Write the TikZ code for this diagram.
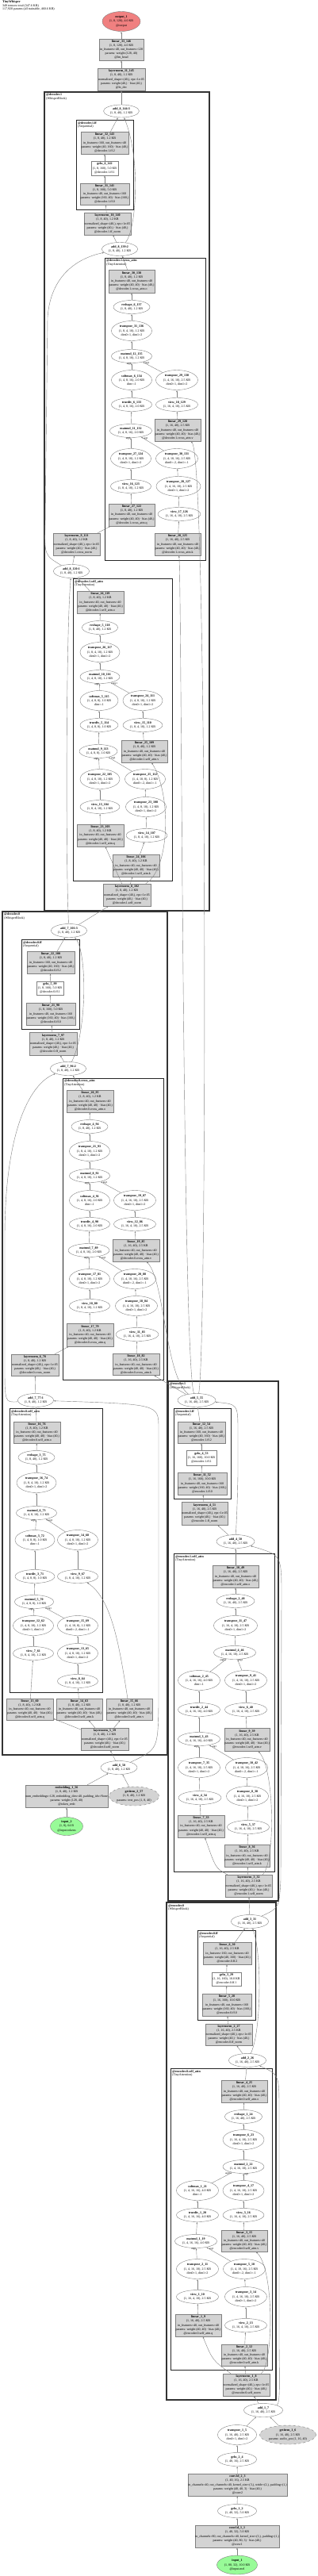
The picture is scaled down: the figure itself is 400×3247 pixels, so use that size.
\documentclass[tikz,border=0pt]{standalone}
\usepackage{fontspec}
\setmainfont{Liberation Serif}
\usetikzlibrary{shapes.geometric,arrows.meta}

\definecolor{modgray}{HTML}{D3D3D3}
\definecolor{outred}{HTML}{F08080}
\definecolor{ingreen}{HTML}{98FB98}

\begin{document}
\catcode`\_=12
\begin{tikzpicture}[x=1pt,y=-1pt,
  txt/.style={font=\fontsize{4}{5.2}\selectfont,align=center,inner sep=0pt},
  wh/.style 2 args={minimum width=#1,minimum height=#2},
  op/.style={txt,ellipse,draw=gray,line width=0.4pt},
  mod/.style={txt,rectangle,draw=gray,fill=modgray,line width=0.4pt},
  act/.style={txt,rectangle,draw=gray,fill=white,line width=0.4pt},
  prm/.style={op,fill=modgray,dashed},
  blk/.style={draw=black!80,line width=1.6pt},
  sub/.style={draw=black!85,line width=0.9pt},
  blklbl/.style={font=\fontsize{4}{4.4}\selectfont,align=left,anchor=north west,inner sep=0pt},
  flow/.style={draw=gray,line width=0.4pt,-{Latex[length=2.4pt,width=1.8pt]}},
  elab/.style={font=\fontsize{3.2}{3.6}\selectfont,inner sep=0.4pt}]
\useasboundingbox (0,0) rectangle (400,3247);

\node[blklbl,font=\fontsize{4}{4.1}\selectfont] (title) at (3,1) {\textbf{TinyWhisper}\\349 tensors total (347.6 KB)\\117,920 params (all trainable, 460.6 KB)};

% clusters
\draw[blk] (56,116) rectangle (264,1148);
\node[blklbl] (c-dec1) at (58,118) {\textbf{@decoder.1}\\(WhisperBlock)};
\draw[sub] (96,151) rectangle (168,264);
\node[blklbl] (c-dec1ff) at (98,153) {\textbf{@decoder.1.ff}\\(Sequential)};
\draw[sub] (132,325) rectangle (259,706);
\node[blklbl] (c-dec1ca) at (134,327) {\textbf{@decoder.1.cross_attn}\\(TinyAttention)};
\draw[sub] (92,729) rectangle (217,1110);
\node[blklbl] (c-dec1sa) at (94,731) {\textbf{@decoder.1.self_attn}\\(TinyAttention)};
\draw[blk] (3,1149) rectangle (211,2212);
\node[blklbl] (c-dec0) at (5,1151) {\textbf{@decoder.0}\\(WhisperBlock)};
\draw[sub] (27,1184) rectangle (100,1297);
\node[blklbl] (c-dec0ff) at (29,1186) {\textbf{@decoder.0.ff}\\(Sequential)};
\draw[sub] (79,1359) rectangle (206,1739);
\node[blklbl] (c-dec0ca) at (81,1361) {\textbf{@decoder.0.cross_attn}\\(TinyAttention)};
\draw[sub] (12,1775) rectangle (129,2133);
\node[blklbl] (c-dec0sa) at (14,1777) {\textbf{@decoder.0.self_attn}\\(TinyAttention)};
\draw[blk] (212,1741) rectangle (351,2396);
\node[blklbl] (c-enc1) at (214,1743) {\textbf{@encoder.1}\\(WhisperBlock)};
\draw[sub] (219,1775) rectangle (291,1889);
\node[blklbl] (c-enc1ff) at (221,1777) {\textbf{@encoder.1.ff}\\(Sequential)};
\draw[sub] (219,1958) rectangle (346,2359);
\node[blklbl] (c-enc1sa) at (221,1960) {\textbf{@encoder.1.self_attn}\\(TinyAttention)};
\draw[blk] (210,2398) rectangle (348,3025);
\node[blklbl] (c-enc0) at (212,2400) {\textbf{@encoder.0}\\(WhisperBlock)};
\draw[sub] (249,2433) rectangle (322,2546);
\node[blklbl] (c-enc0ff) at (251,2435) {\textbf{@encoder.0.ff}\\(Sequential)};
\draw[sub] (215,2607) rectangle (343,2987);
\node[blklbl] (c-enc0sa) at (217,2609) {\textbf{@encoder.0.self_attn}\\(TinyAttention)};

% head
\node[op,fill=outred,wh={48}{25}] (out1) at (153,27) {\textbf{output_1}\\(1, 8, 128), 4.0 KB\\@output};
\node[mod,wh={56}{27}] (lin33) at (153,62.5) {\textbf{linear_33_146}\\(1, 8, 128), 4.0 KB\\in_features=40, out_features=128\\params: weight (128, 40)\\@lm_head};
\node[mod,wh={60}{28}] (ln11) at (153,100) {\textbf{layernorm_11_145}\\(1, 8, 40), 1.2 KB\\normalized_shape=(40,), eps=1e-05\\params: weight (40,) · bias (40,)\\@ln_dec};

% decoder.1
\node[op,wh={45}{16}] (add8c) at (153,140) {\textbf{add_8_144:3}\\(1, 8, 40), 1.2 KB};
\node[mod,wh={60}{28}] (lin32) at (132,180) {\textbf{linear_32_143}\\(1, 8, 40), 1.2 KB\\in_features=160, out_features=40\\params: weight (40, 160) · bias (40,)\\@decoder.1.ff.2};
\node[act,wh={34}{18}] (gelu6) at (132,212) {\textbf{gelu_6_142}\\(1, 8, 160), 5.0 KB\\@decoder.1.ff.1};
\node[mod,wh={62}{27}] (lin31) at (132,244.5) {\textbf{linear_31_141}\\(1, 8, 160), 5.0 KB\\in_features=40, out_features=160\\params: weight (160, 40) · bias (160,)\\@decoder.1.ff.0};
\node[mod,wh={59}{28}] (ln10) at (135.5,282) {\textbf{layernorm_10_140}\\(1, 8, 40), 1.2 KB\\normalized_shape=(40,), eps=1e-05\\params: weight (40,) · bias (40,)\\@decoder.1.ff_norm};
\node[op,wh={45}{17}] (add8b) at (151,314) {\textbf{add_8_139:2}\\(1, 8, 40), 1.2 KB};
\node[mod,wh={58}{29}] (lin30) at (166,354.5) {\textbf{linear_30_138}\\(1, 8, 40), 1.2 KB\\in_features=40, out_features=40\\params: weight (40, 40) · bias (40,)\\@decoder.1.cross_attn.o};
\node[op,wh={46}{17}] (resh6) at (166,387) {\textbf{reshape_6_137}\\(1, 8, 40), 1.2 KB};
\node[op,wh={51}{25}] (tr31) at (166,417) {\textbf{transpose_31_136}\\(1, 8, 4, 10), 1.2 KB\\dim0=1, dim1=2};
\node[op,wh={51}{17}] (mm12) at (166,449) {\textbf{matmul_12_135}\\(1, 4, 8, 10), 1.2 KB};
\node[op,wh={51}{25}] (sm6) at (166,479) {\textbf{softmax_6_134}\\(1, 4, 8, 16), 2.0 KB\\dim=-1};
\node[op,wh={53}{25}] (tr29) at (223,479) {\textbf{transpose_29_130}\\(1, 4, 16, 10), 2.5 KB\\dim0=1, dim1=2};
\node[op,wh={51}{17}] (div6) at (166,510) {\textbf{truediv_6_133}\\(1, 4, 8, 16), 2.0 KB};
\node[op,wh={53}{17}] (view18) at (223,510) {\textbf{view_18_129}\\(1, 16, 4, 10), 2.5 KB};
\node[op,wh={53}{17}] (mm11) at (165,543) {\textbf{matmul_11_132}\\(1, 4, 8, 16), 2.0 KB};
\node[mod,wh={58}{28}] (lin29) at (224,542) {\textbf{linear_29_128}\\(1, 16, 40), 2.5 KB\\in_features=40, out_features=40\\params: weight (40, 40) · bias (40,)\\@decoder.1.cross_attn.v};
\node[op,wh={51}{25}] (tr27) at (165,578) {\textbf{transpose_27_124}\\(1, 4, 8, 10), 1.2 KB\\dim0=1, dim1=2};
\node[op,wh={53}{25}] (tr30) at (223,578) {\textbf{transpose_30_131}\\(1, 4, 10, 16), 2.5 KB\\dim0=-2, dim1=-1};
\node[op,wh={51}{17}] (view16) at (165,613) {\textbf{view_16_123}\\(1, 8, 4, 10), 1.2 KB};
\node[op,wh={56}{25}] (tr28) at (225,613) {\textbf{transpose_28_127}\\(1, 4, 16, 10), 2.5 KB\\dim0=1, dim1=2};
\node[mod,wh={58}{28}] (lin27) at (166,649) {\textbf{linear_27_122}\\(1, 8, 40), 1.2 KB\\in_features=40, out_features=40\\params: weight (40, 40) · bias (40,)\\@decoder.1.cross_attn.q};
\node[op,wh={54}{17}] (view17) at (226,648) {\textbf{view_17_126}\\(1, 16, 4, 10), 2.5 KB};
\node[mod,wh={58}{28}] (lin28) at (224,686) {\textbf{linear_28_125}\\(1, 16, 40), 2.5 KB\\in_features=40, out_features=40\\params: weight (40, 40) · bias (40,)\\@decoder.1.cross_attn.k};
\node[mod,wh={59}{28}] (ln9) at (96.5,686) {\textbf{layernorm_9_121}\\(1, 8, 40), 1.2 KB\\normalized_shape=(40,), eps=1e-05\\params: weight (40,) · bias (40,)\\@decoder.1.cross_norm};
\node[op,wh={45}{17}] (add8a) at (90,720) {\textbf{add_8_120:1}\\(1, 8, 40), 1.2 KB};
\node[mod,wh={59}{28}] (lin26) at (126.5,759) {\textbf{linear_26_119}\\(1, 8, 40), 1.2 KB\\in_features=40, out_features=40\\params: weight (40, 40) · bias (40,)\\@decoder.1.self_attn.o};
\node[op,wh={45}{17}] (resh5) at (126,791) {\textbf{reshape_5_118}\\(1, 8, 40), 1.2 KB};
\node[op,wh={50}{25}] (tr26) at (126,822) {\textbf{transpose_26_117}\\(1, 8, 4, 10), 1.2 KB\\dim0=1, dim1=2};
\node[op,wh={50}{17}] (mm10) at (126,853) {\textbf{matmul_10_116}\\(1, 4, 8, 10), 1.2 KB};
\node[op,wh={48}{25}] (sm5) at (125,883) {\textbf{softmax_5_115}\\(1, 4, 8, 8), 1.0 KB\\dim=-1};
\node[op,wh={50}{25}] (tr24) at (180,883) {\textbf{transpose_24_111}\\(1, 4, 8, 10), 1.2 KB\\dim0=1, dim1=2};
\node[op,wh={48}{17}] (div5) at (125,914) {\textbf{truediv_5_114}\\(1, 4, 8, 8), 1.0 KB};
\node[op,wh={50}{17}] (view15) at (180,914) {\textbf{view_15_110}\\(1, 8, 4, 10), 1.2 KB};
\node[op,wh={48}{17}] (mm9) at (124,947) {\textbf{matmul_9_113}\\(1, 4, 8, 8), 1.0 KB};
\node[mod,wh={58}{28}] (lin25) at (182,947) {\textbf{linear_25_109}\\(1, 8, 40), 1.2 KB\\in_features=40, out_features=40\\params: weight (40, 40) · bias (40,)\\@decoder.1.self_attn.v};
\node[op,wh={50}{25}] (tr22) at (126,982) {\textbf{transpose_22_105}\\(1, 4, 8, 10), 1.2 KB\\dim0=1, dim1=2};
\node[op,wh={51}{25}] (tr25) at (183,982) {\textbf{transpose_25_112}\\(1, 4, 10, 8), 1.2 KB\\dim0=-2, dim1=-1};
\node[op,wh={50}{17}] (view13) at (126,1017) {\textbf{view_13_104}\\(1, 8, 4, 10), 1.2 KB};
\node[op,wh={51}{25}] (tr23) at (184,1017) {\textbf{transpose_23_108}\\(1, 4, 8, 10), 1.2 KB\\dim0=1, dim1=2};
\node[mod,wh={59}{28}] (lin23) at (126.5,1053) {\textbf{linear_23_103}\\(1, 8, 40), 1.2 KB\\in_features=40, out_features=40\\params: weight (40, 40) · bias (40,)\\@decoder.1.self_attn.q};
\node[op,wh={52}{17}] (view14) at (185,1053) {\textbf{view_14_107}\\(1, 8, 4, 10), 1.2 KB};
\node[mod,wh={59}{28}] (lin24) at (171.5,1091) {\textbf{linear_24_106}\\(1, 8, 40), 1.2 KB\\in_features=40, out_features=40\\params: weight (40, 40) · bias (40,)\\@decoder.1.self_attn.k};
\node[mod,wh={60}{28}] (ln8) at (160,1128) {\textbf{layernorm_8_102}\\(1, 8, 40), 1.2 KB\\normalized_shape=(40,), eps=1e-05\\params: weight (40,) · bias (40,)\\@decoder.1.self_norm};

% decoder.0
\node[op,wh={45}{17}] (add7c) at (87,1173) {\textbf{add_7_101:3}\\(1, 8, 40), 1.2 KB};
\node[mod,wh={60}{28}] (lin22) at (64,1213) {\textbf{linear_22_100}\\(1, 8, 40), 1.2 KB\\in_features=160, out_features=40\\params: weight (40, 160) · bias (40,)\\@decoder.0.ff.2};
\node[act,wh={34}{17}] (gelu5) at (63,1245.5) {\textbf{gelu_5_99}\\(1, 8, 160), 5.0 KB\\@decoder.0.ff.1};
\node[mod,wh={62}{28}] (lin21) at (64,1278) {\textbf{linear_21_98}\\(1, 8, 160), 5.0 KB\\in_features=40, out_features=160\\params: weight (160, 40) · bias (160,)\\@decoder.0.ff.0};
\node[mod,wh={60}{29}] (ln7) at (67,1315.5) {\textbf{layernorm_7_97}\\(1, 8, 40), 1.2 KB\\normalized_shape=(40,), eps=1e-05\\params: weight (40,) · bias (40,)\\@decoder.0.ff_norm};
\node[op,wh={45}{17}] (add7b) at (86,1347) {\textbf{add_7_96:2}\\(1, 8, 40), 1.2 KB};
\node[mod,wh={59}{28}] (lin20) at (113.5,1388) {\textbf{linear_20_95}\\(1, 8, 40), 1.2 KB\\in_features=40, out_features=40\\params: weight (40, 40) · bias (40,)\\@decoder.0.cross_attn.o};
\node[op,wh={46}{17}] (resh4) at (113,1420) {\textbf{reshape_4_94}\\(1, 8, 40), 1.2 KB};
\node[op,wh={51}{25}] (tr21) at (113,1451) {\textbf{transpose_21_93}\\(1, 8, 4, 10), 1.2 KB\\dim0=1, dim1=2};
\node[op,wh={51}{17}] (mm8) at (113,1482) {\textbf{matmul_8_92}\\(1, 4, 8, 10), 1.2 KB};
\node[op,wh={51}{25}] (sm4) at (113,1513) {\textbf{softmax_4_91}\\(1, 4, 8, 16), 2.0 KB\\dim=-1};
\node[op,wh={53}{25}] (tr19) at (170,1513) {\textbf{transpose_19_87}\\(1, 4, 16, 10), 2.5 KB\\dim0=1, dim1=2};
\node[op,wh={51}{17}] (div4) at (113,1543) {\textbf{truediv_4_90}\\(1, 4, 8, 16), 2.0 KB};
\node[op,wh={53}{17}] (view12) at (170,1543) {\textbf{view_12_86}\\(1, 16, 4, 10), 2.5 KB};
\node[op,wh={52}{17}] (mm7) at (112,1576) {\textbf{matmul_7_89}\\(1, 4, 8, 16), 2.0 KB};
\node[mod,wh={59}{28}] (lin19) at (171.5,1576) {\textbf{linear_19_85}\\(1, 16, 40), 2.5 KB\\in_features=40, out_features=40\\params: weight (40, 40) · bias (40,)\\@decoder.0.cross_attn.v};
\node[op,wh={51}{25}] (tr17) at (113,1612) {\textbf{transpose_17_81}\\(1, 4, 8, 10), 1.2 KB\\dim0=1, dim1=2};
\node[op,wh={53}{25}] (tr20) at (170,1612) {\textbf{transpose_20_88}\\(1, 4, 10, 16), 2.5 KB\\dim0=-2, dim1=-1};
\node[op,wh={51}{17}] (view10) at (113,1646) {\textbf{view_10_80}\\(1, 8, 4, 10), 1.2 KB};
\node[op,wh={53}{25}] (tr18) at (172,1646) {\textbf{transpose_18_84}\\(1, 4, 16, 10), 2.5 KB\\dim0=1, dim1=2};
\node[mod,wh={59}{29}] (lin17) at (113.5,1682.5) {\textbf{linear_17_79}\\(1, 8, 40), 1.2 KB\\in_features=40, out_features=40\\params: weight (40, 40) · bias (40,)\\@decoder.0.cross_attn.q};
\node[op,wh={54}{17}] (view11) at (173,1682) {\textbf{view_11_83}\\(1, 16, 4, 10), 2.5 KB};
\node[mod,wh={59}{27}] (lin18) at (171.5,1720) {\textbf{linear_18_82}\\(1, 16, 40), 2.5 KB\\in_features=40, out_features=40\\params: weight (40, 40) · bias (40,)\\@decoder.0.cross_attn.k};
\node[mod,wh={60}{27}] (ln6) at (44,1720.5) {\textbf{layernorm_6_78}\\(1, 8, 40), 1.2 KB\\normalized_shape=(40,), eps=1e-05\\params: weight (40,) · bias (40,)\\@decoder.0.cross_norm};
\node[op,wh={45}{17}] (add7a) at (45,1765) {\textbf{add_7_77:1}\\(1, 8, 40), 1.2 KB};
\node[mod,wh={59}{27}] (lin16) at (46.5,1805.5) {\textbf{linear_16_76}\\(1, 8, 40), 1.2 KB\\in_features=40, out_features=40\\params: weight (40, 40) · bias (40,)\\@decoder.0.self_attn.o};
\node[op,wh={46}{17}] (resh3) at (46,1837) {\textbf{reshape_3_75}\\(1, 8, 40), 1.2 KB};
\node[op,wh={50}{25}] (tr16) at (46,1869) {\textbf{transpose_16_74}\\(1, 8, 4, 10), 1.2 KB\\dim0=1, dim1=2};
\node[op,wh={51}{17}] (mm6) at (46,1907) {\textbf{matmul_6_73}\\(1, 4, 8, 10), 1.2 KB};
\node[op,wh={50}{25}] (sm3) at (44,1941) {\textbf{softmax_3_72}\\(1, 4, 8, 8), 1.0 KB\\dim=-1};
\node[op,wh={51}{25}] (tr14) at (98,1941) {\textbf{transpose_14_68}\\(1, 4, 8, 10), 1.2 KB\\dim0=1, dim1=2};
\node[op,wh={50}{17}] (div3) at (44,1987) {\textbf{truediv_3_71}\\(1, 4, 8, 8), 1.0 KB};
\node[op,wh={51}{17}] (view9) at (98,1987) {\textbf{view_9_67}\\(1, 8, 4, 10), 1.2 KB};
\node[op,wh={49}{17}] (mm5) at (43,2019) {\textbf{matmul_5_70}\\(1, 4, 8, 8), 1.0 KB};
\node[op,wh={51}{25}] (tr12) at (42,2049) {\textbf{transpose_12_62}\\(1, 4, 8, 10), 1.2 KB\\dim0=1, dim1=2};
\node[op,wh={51}{25}] (tr15) at (98,2049) {\textbf{transpose_15_69}\\(1, 4, 10, 8), 1.2 KB\\dim0=-2, dim1=-1};
\node[op,wh={51}{17}] (view7) at (42,2084) {\textbf{view_7_61}\\(1, 8, 4, 10), 1.2 KB};
\node[op,wh={51}{25}] (tr13) at (98,2084) {\textbf{transpose_13_65}\\(1, 4, 8, 10), 1.2 KB\\dim0=1, dim1=2};
\node[op,wh={51}{17}] (view8) at (98,2119) {\textbf{view_8_64}\\(1, 8, 4, 10), 1.2 KB};
\node[mod,wh={59}{27}] (lin13) at (37.5,2154.5) {\textbf{linear_13_60}\\(1, 8, 40), 1.2 KB\\in_features=40, out_features=40\\params: weight (40, 40) · bias (40,)\\@decoder.0.self_attn.q};
\node[mod,wh={58}{27}] (lin14) at (100,2154.5) {\textbf{linear_14_63}\\(1, 8, 40), 1.2 KB\\in_features=40, out_features=40\\params: weight (40, 40) · bias (40,)\\@decoder.0.self_attn.k};
\node[mod,wh={58}{27}] (lin15) at (163,2154.5) {\textbf{linear_15_66}\\(1, 8, 40), 1.2 KB\\in_features=40, out_features=40\\params: weight (40, 40) · bias (40,)\\@decoder.0.self_attn.v};
\node[mod,wh={60}{28}] (ln5) at (132,2192) {\textbf{layernorm_5_59}\\(1, 8, 40), 1.2 KB\\normalized_shape=(40,), eps=1e-05\\params: weight (40,) · bias (40,)\\@decoder.0.self_norm};

% decoder input
\node[op,wh={46}{17}] (add6) at (150,2228) {\textbf{add_6_58}\\(1, 8, 40), 1.2 KB};
\node[mod,wh={96}{28}] (emb) at (84,2264) {\textbf{embedding_1_56}\\(1, 8, 40), 1.2 KB\\num_embeddings=128, embedding_dim=40, padding_idx=None\\params: weight (128, 40)\\@token_emb};
\node[prm,wh={63}{24}] (gi2) at (169,2264) {\textbf{getitem_2_57}\\(1, 8, 40), 1.2 KB\\params: text_pos (1, 8, 40)};
\node[op,fill=ingreen,wh={41}{23}] (in2) at (84,2302) {\textbf{input_2}\\(1, 8), 64 B\\@input.tokens};

% encoder.1
\node[op,wh={48}{17}] (add5) at (248,1765) {\textbf{add_5_55}\\(1, 16, 40), 2.5 KB};
\node[mod,wh={60}{27}] (lin12) at (254,1805.5) {\textbf{linear_12_54}\\(1, 16, 40), 2.5 KB\\in_features=160, out_features=40\\params: weight (40, 160) · bias (40,)\\@encoder.1.ff.2};
\node[act,wh={38}{19}] (gelu4) at (254,1837.5) {\textbf{gelu_4_53}\\(1, 16, 160), 10.0 KB\\@encoder.1.ff.1};
\node[mod,wh={62}{28}] (lin11) at (255,1870) {\textbf{linear_11_52}\\(1, 16, 160), 10.0 KB\\in_features=40, out_features=160\\params: weight (160, 40) · bias (160,)\\@encoder.1.ff.0};
\node[mod,wh={58}{29}] (ln4) at (258,1907.5) {\textbf{layernorm_4_51}\\(1, 16, 40), 2.5 KB\\normalized_shape=(40,), eps=1e-05\\params: weight (40,) · bias (40,)\\@encoder.1.ff_norm};
\node[op,wh={48}{17}] (add4) at (297,1943) {\textbf{add_4_50}\\(1, 16, 40), 2.5 KB};
\node[mod,wh={58}{28}] (lin10) at (297,1987) {\textbf{linear_10_49}\\(1, 16, 40), 2.5 KB\\in_features=40, out_features=40\\params: weight (40, 40) · bias (40,)\\@encoder.1.self_attn.o};
\node[op,wh={48}{17}] (resh2) at (297,2018) {\textbf{reshape_2_48}\\(1, 16, 40), 2.5 KB};
\node[op,wh={55}{25}] (tr11) at (297,2049) {\textbf{transpose_11_47}\\(1, 16, 4, 10), 2.5 KB\\dim0=1, dim1=2};
\node[op,wh={53}{17}] (mm4) at (296,2083) {\textbf{matmul_4_46}\\(1, 4, 16, 10), 2.5 KB};
\node[op,wh={53}{25}] (sm2) at (251,2118) {\textbf{softmax_2_45}\\(1, 4, 16, 16), 4.0 KB\\dim=-1};
\node[op,wh={53}{25}] (tr9) at (310,2118) {\textbf{transpose_9_41}\\(1, 4, 16, 10), 2.5 KB\\dim0=1, dim1=2};
\node[op,wh={53}{17}] (div2) at (251,2155) {\textbf{truediv_2_44}\\(1, 4, 16, 16), 4.0 KB};
\node[op,wh={53}{17}] (view6) at (310,2155) {\textbf{view_6_40}\\(1, 16, 4, 10), 2.5 KB};
\node[op,wh={53}{17}] (mm3) at (251,2192) {\textbf{matmul_3_43}\\(1, 4, 16, 16), 4.0 KB};
\node[mod,wh={57}{29}] (lin9) at (311.5,2192.5) {\textbf{linear_9_39}\\(1, 16, 40), 2.5 KB\\in_features=40, out_features=40\\params: weight (40, 40) · bias (40,)\\@encoder.1.self_attn.v};
\node[op,wh={53}{25}] (tr7) at (251,2228) {\textbf{transpose_7_35}\\(1, 4, 16, 10), 2.5 KB\\dim0=1, dim1=2};
\node[op,wh={53}{25}] (tr10) at (311,2228) {\textbf{transpose_10_42}\\(1, 4, 10, 16), 2.5 KB\\dim0=-2, dim1=-1};
\node[op,wh={54}{17}] (view4) at (252,2266) {\textbf{view_4_34}\\(1, 16, 4, 10), 2.5 KB};
\node[op,wh={53}{25}] (tr8) at (312,2264) {\textbf{transpose_8_38}\\(1, 4, 16, 10), 2.5 KB\\dim0=1, dim1=2};
\node[mod,wh={59}{28}] (lin7) at (253.5,2302) {\textbf{linear_7_33}\\(1, 16, 40), 2.5 KB\\in_features=40, out_features=40\\params: weight (40, 40) · bias (40,)\\@encoder.1.self_attn.q};
\node[op,wh={53}{17}] (view5) at (313,2303) {\textbf{view_5_37}\\(1, 16, 4, 10), 2.5 KB};
\node[mod,wh={57}{28}] (lin8) at (311.5,2339) {\textbf{linear_8_36}\\(1, 16, 40), 2.5 KB\\in_features=40, out_features=40\\params: weight (40, 40) · bias (40,)\\@encoder.1.self_attn.k};
\node[mod,wh={59}{28}] (ln3) at (313.5,2377) {\textbf{layernorm_3_32}\\(1, 16, 40), 2.5 KB\\normalized_shape=(40,), eps=1e-05\\params: weight (40,) · bias (40,)\\@encoder.1.self_norm};

% encoder.0
\node[op,wh={47}{17}] (add3) at (315,2422) {\textbf{add_3_31}\\(1, 16, 40), 2.5 KB};
\node[mod,wh={61}{28}] (lin6) at (286.5,2462) {\textbf{linear_6_30}\\(1, 16, 40), 2.5 KB\\in_features=160, out_features=40\\params: weight (40, 160) · bias (40,)\\@encoder.0.ff.2};
\node[act,wh={37}{17}] (gelu3) at (285.5,2494.5) {\textbf{gelu_3_29}\\(1, 16, 160), 10.0 KB\\@encoder.0.ff.1};
\node[mod,wh={62}{28}] (lin5) at (286,2527) {\textbf{linear_5_28}\\(1, 16, 160), 10.0 KB\\in_features=40, out_features=160\\params: weight (160, 40) · bias (160,)\\@encoder.0.ff.0};
\node[mod,wh={59}{27}] (ln2) at (288.5,2564.5) {\textbf{layernorm_2_27}\\(1, 16, 40), 2.5 KB\\normalized_shape=(40,), eps=1e-05\\params: weight (40,) · bias (40,)\\@encoder.0.ff_norm};
\node[op,wh={47}{17}] (add2) at (312,2597) {\textbf{add_2_26}\\(1, 16, 40), 2.5 KB};
\node[mod,wh={58}{28}] (lin4) at (308,2636) {\textbf{linear_4_25}\\(1, 16, 40), 2.5 KB\\in_features=40, out_features=40\\params: weight (40, 40) · bias (40,)\\@encoder.0.self_attn.o};
\node[op,wh={47}{17}] (resh1) at (307,2668) {\textbf{reshape_1_24}\\(1, 16, 40), 2.5 KB};
\node[op,wh={52}{25}] (tr6) at (307,2697) {\textbf{transpose_6_23}\\(1, 16, 4, 10), 2.5 KB\\dim0=1, dim1=2};
\node[op,wh={52}{17}] (mm2) at (307,2731) {\textbf{matmul_2_22}\\(1, 4, 16, 10), 2.5 KB};
\node[op,wh={53}{25}] (sm1) at (249,2761) {\textbf{softmax_1_21}\\(1, 4, 16, 16), 4.0 KB\\dim=-1};
\node[op,wh={52}{25}] (tr4) at (307,2761) {\textbf{transpose_4_17}\\(1, 4, 16, 10), 2.5 KB\\dim0=1, dim1=2};
\node[op,wh={53}{17}] (div1) at (249,2792) {\textbf{truediv_1_20}\\(1, 4, 16, 16), 4.0 KB};
\node[op,wh={52}{17}] (view3) at (307,2792) {\textbf{view_3_16}\\(1, 16, 4, 10), 2.5 KB};
\node[op,wh={53}{17}] (mm1) at (247,2825) {\textbf{matmul_1_19}\\(1, 4, 16, 16), 4.0 KB};
\node[mod,wh={58}{27}] (lin3) at (308,2824.5) {\textbf{linear_3_15}\\(1, 16, 40), 2.5 KB\\in_features=40, out_features=40\\params: weight (40, 40) · bias (40,)\\@encoder.0.self_attn.v};
\node[op,wh={53}{25}] (tr2) at (249,2860) {\textbf{transpose_2_11}\\(1, 4, 16, 10), 2.5 KB\\dim0=1, dim1=2};
\node[op,wh={53}{25}] (tr5) at (308,2860) {\textbf{transpose_5_18}\\(1, 4, 10, 16), 2.5 KB\\dim0=-2, dim1=-1};
\node[op,wh={53}{17}] (view1) at (249,2895) {\textbf{view_1_10}\\(1, 16, 4, 10), 2.5 KB};
\node[op,wh={53}{25}] (tr3) at (310,2895) {\textbf{transpose_3_14}\\(1, 4, 16, 10), 2.5 KB\\dim0=1, dim1=2};
\node[mod,wh={58}{28}] (lin1) at (250,2931) {\textbf{linear_1_9}\\(1, 16, 40), 2.5 KB\\in_features=40, out_features=40\\params: weight (40, 40) · bias (40,)\\@encoder.0.self_attn.q};
\node[op,wh={53}{17}] (view2) at (310,2931) {\textbf{view_2_13}\\(1, 16, 4, 10), 2.5 KB};
\node[mod,wh={58}{27}] (lin2) at (308,2968.5) {\textbf{linear_2_12}\\(1, 16, 40), 2.5 KB\\in_features=40, out_features=40\\params: weight (40, 40) · bias (40,)\\@encoder.0.self_attn.k};
\node[mod,wh={59}{28}] (ln1) at (310.5,3006) {\textbf{layernorm_1_8}\\(1, 16, 40), 2.5 KB\\normalized_shape=(40,), eps=1e-05\\params: weight (40,) · bias (40,)\\@encoder.0.self_norm};

% encoder input
\node[op,wh={49}{17}] (add1) at (332,3038) {\textbf{add_1_7}\\(1, 16, 40), 2.5 KB};
\node[op,wh={49}{25}] (tr1) at (299,3069) {\textbf{transpose_1_5}\\(1, 16, 40), 2.5 KB\\dim0=1, dim1=2};
\node[prm,wh={71}{24}] (gi1) at (363,3069) {\textbf{getitem_1_6}\\(1, 16, 40), 2.5 KB\\params: audio_pos (1, 16, 40)};
\node[op,wh={49}{17}] (gelu2) at (299,3100) {\textbf{gelu_2_4}\\(1, 40, 16), 2.5 KB};
\node[mod,wh={117}{28}] (conv2) at (299.5,3132) {\textbf{conv1d_2_3}\\(1, 40, 16), 2.5 KB\\in_channels=40, out_channels=40, kernel_size=(3,), stride=(2,), padding=(1,)\\params: weight (40, 40, 3) · bias (40,)\\@conv2};
\node[op,wh={49}{17}] (gelu1) at (299,3165) {\textbf{gelu_1_2}\\(1, 40, 32), 5.0 KB};
\node[mod,wh={100}{28}] (conv1) at (299,3197) {\textbf{conv1d_1_1}\\(1, 40, 32), 5.0 KB\\in_channels=80, out_channels=40, kernel_size=(3,), padding=(1,)\\params: weight (40, 80, 3) · bias (40,)\\@conv1};
\node[op,fill=ingreen,wh={51}{24}] (in1) at (299,3233) {\textbf{input_1}\\(1, 80, 32), 10.0 KB\\@input.mel};

% straight connectors
\foreach \a/\b in {in1/conv1,conv1/gelu1,gelu1/conv2,conv2/gelu2,gelu2/tr1,tr1/add1,gi1/add1,add1/ln1,ln1/lin2,
  lin1/view1,view1/tr2,lin2/view2,view2/tr3,tr3/tr5,lin3/view3,view3/tr4,mm1/div1,div1/sm1,mm2/tr6,tr6/resh1,
  resh1/lin4,lin4/add2,add2/ln2,ln2/lin5,lin5/gelu3,gelu3/lin6,lin6/add3,add3/ln3,ln3/lin8,lin7/view4,view4/tr7,
  lin8/view5,view5/tr8,tr8/tr10,lin9/view6,view6/tr9,mm3/div2,div2/sm2,mm4/tr11,tr11/resh2,resh2/lin10,
  lin10/add4,add4/ln4,ln4/lin11,lin11/gelu4,gelu4/lin12,lin12/add5,
  in2/emb,emb/add6,gi2/add6,add6/ln5,ln5/lin13,ln5/lin14,ln5/lin15,lin13/view7,view7/tr12,lin14/view8,view8/tr13,
  tr13/tr15,view9/tr14,mm5/div3,div3/sm3,mm6/tr16,tr16/resh3,resh3/lin16,lin16/add7a,add7a/ln6,ln6/lin17,
  lin17/view10,view10/tr17,lin18/view11,view11/tr18,tr18/tr20,lin19/view12,view12/tr19,mm7/div4,div4/sm4,
  mm8/tr21,tr21/resh4,resh4/lin20,lin20/add7b,add7b/ln7,ln7/lin21,lin21/gelu5,gelu5/lin22,lin22/add7c,
  add7c/ln8,ln8/lin23,ln8/lin24,lin23/view13,view13/tr22,lin24/view14,view14/tr23,tr23/tr25,lin25/view15,
  view15/tr24,mm9/div5,div5/sm5,mm10/tr26,tr26/resh5,resh5/lin26,lin26/add8a,add8a/ln9,ln9/lin27,
  lin27/view16,view16/tr27,lin28/view17,view17/tr28,tr28/tr30,lin29/view18,view18/tr29,mm11/div6,div6/sm6,
  mm12/tr31,tr31/resh6,resh6/lin30,lin30/add8b,add8b/ln10,ln10/lin31,lin31/gelu6,gelu6/lin32,lin32/add8c,
  add8c/ln11,ln11/lin33,lin33/out1}
  \draw[flow] (\a) -- (\b);

% matmul operands
\foreach \a/\b in {tr2/mm1,sm1/mm2,tr7/mm3,sm2/mm4,tr12/mm5,sm3/mm6,tr17/mm7,sm4/mm8,tr22/mm9,sm5/mm10,tr27/mm11,sm6/mm12}
  \draw[flow] (\a) -- node[elab,pos=0.9,left] {arg0} (\b);
\foreach \a/\b in {tr5/mm1,tr4/mm2,tr10/mm3,tr9/mm4,tr15/mm5,tr14/mm6,tr20/mm7,tr19/mm8,tr25/mm9,tr24/mm10,tr30/mm11,tr29/mm12}
  \draw[flow] (\a) -- node[elab,pos=0.9,right] {arg1} (\b);

% bent connectors
\draw[flow] (ln1) .. controls (268,2975) .. (lin1);
\draw[flow] (ln1) .. controls (345,2980) and (346,2860) .. (lin3);
\draw[flow] (add1) .. controls (354,3030) and (352,2990) .. (352,2950) -- (352,2660) .. controls (352,2615) .. (add2);
\draw[flow] (add2) .. controls (330,2560) and (330,2460) .. (add3);
\draw[flow] (ln3) .. controls (272,2355) .. (lin7);
\draw[flow] (ln3) .. controls (347,2350) and (347,2230) .. (lin9);
\draw[flow] (add3) .. controls (352,2405) .. (354,2370) -- (355,2010) .. controls (355,1960) .. (add4);
\draw[flow] (add4) .. controls (299,1900) .. (300,1860) -- (300,1805) .. controls (300,1770) .. (add5);
\draw[flow] (add5) .. controls (218,1748) .. (lin18);
\draw[flow] (add5) .. controls (208,1735) and (208,1615) .. (lin19);
\draw[flow] (add5) .. controls (230,1720) and (229,730) .. (lin28);
\draw[flow] (add5) .. controls (261,1720) and (262,575) .. (lin29);
\draw[flow] (lin15) .. controls (150,2070) and (140,2015) .. (view9);
\draw[flow] (add6) .. controls (199,2205) .. (200,2150) -- (200,1800) .. controls (200,1770) .. (add7a);
\draw[flow] (add7a) .. controls (6,1768) .. (6,1720) -- (6,1560) .. controls (6,1420) and (40,1365) .. (add7b);
\draw[flow] (add7b) .. controls (110,1300) and (110,1200) .. (add7c);
\draw[flow] (add7c) .. controls (83,1100) and (83,800) .. (add8a);
\draw[flow] (ln8) .. controls (215,1095) and (216,1000) .. (lin25);
\draw[flow] (add8a) .. controls (56,700) .. (57,660) -- (60,400) .. controls (64,345) and (100,325) .. (add8b);
\draw[flow] (add8b) .. controls (172,290) and (178,200) .. (add8c);
\end{tikzpicture}
\end{document}
